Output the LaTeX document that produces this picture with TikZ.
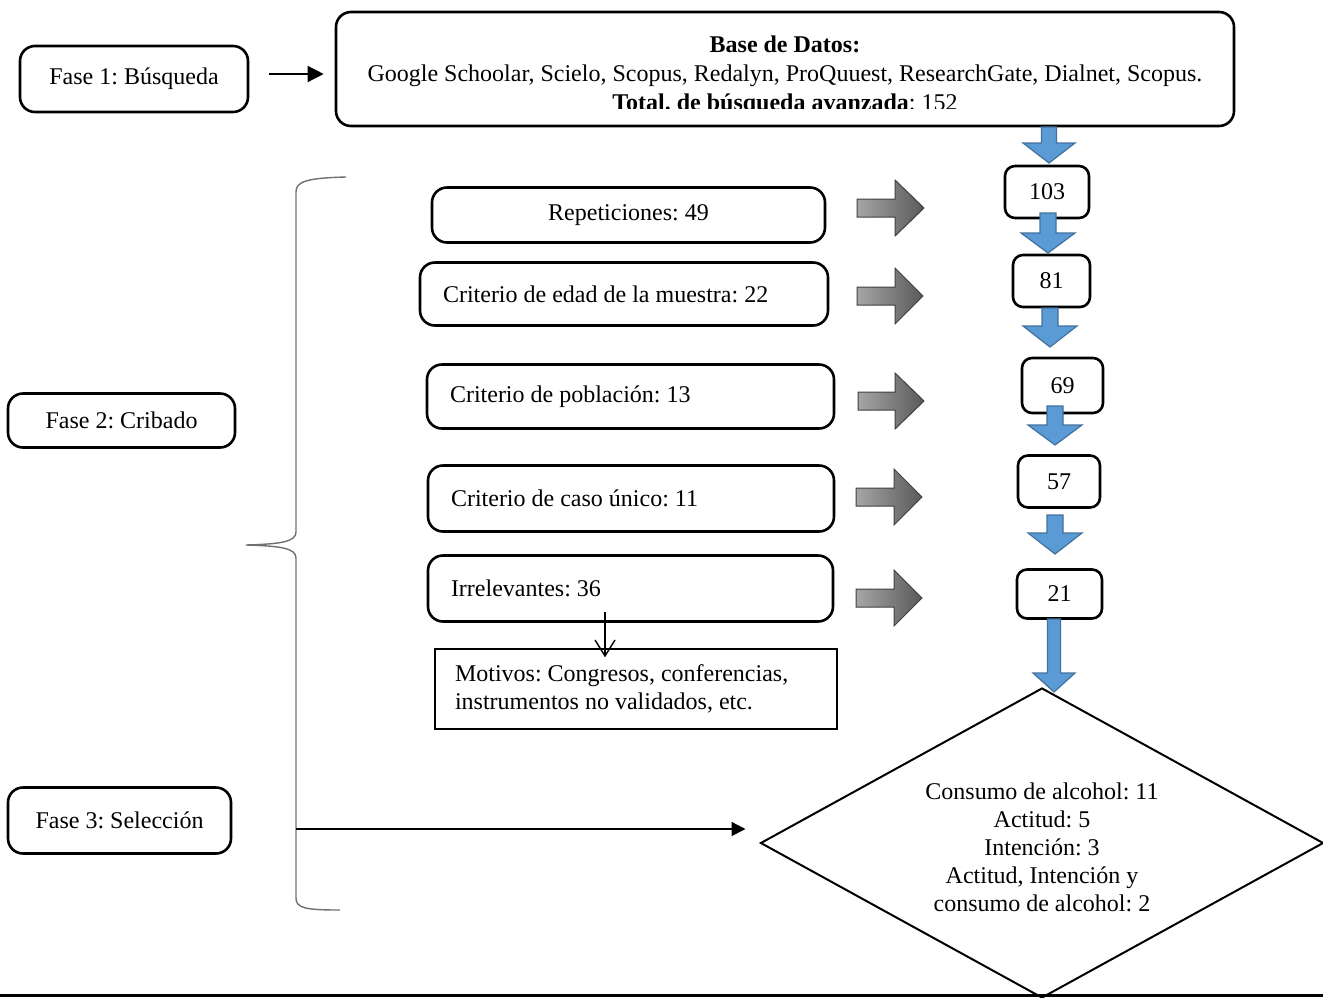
\documentclass[tikz,border=0pt]{standalone}
\usepackage{fontspec}
\setmainfont{Liberation Serif}
\usepackage{xcolor}
\usepackage{tikz}
\usetikzlibrary{positioning}
\usetikzlibrary{shapes.geometric}
\usetikzlibrary{arrows.meta}

\definecolor{flowblue}{HTML}{5B9BD5}
\definecolor{flowblueline}{HTML}{41719C}
\definecolor{bracegray}{HTML}{707070}

\tikzset{
  phase/.style={draw,rounded corners=7.5pt,line width=1.3pt,inner sep=2pt,align=center},
  crit/.style={draw,rounded corners=7.5pt,line width=1.3pt,inner xsep=11.5pt,inner ysep=0pt,align=flush left},
  num/.style={draw,rounded corners=5pt,line width=1.3pt,inner sep=0pt,align=center},
  note/.style={draw,line width=0.7pt,inner xsep=10pt,inner ysep=0pt,align=flush left},
  decision/.style={draw,diamond,aspect=1.816,line width=1pt,inner sep=0pt},
  bluearrow/.style={fill=flowblue,draw=flowblueline,line width=0.6pt},
  grayarrow/.style={left color=black!35,right color=black!65,draw=black!75,line width=0.5pt},
}

\begin{document}
\frenchspacing
\begin{tikzpicture}[x=0.5pt,y=-0.5pt,font=\fontsize{12}{14}\selectfont]
\useasboundingbox (0,0) rectangle (1323,997);

% fases
\node[phase,minimum width=114pt,minimum height=33pt]   (fase1) at (134,79)    {Fase 1: Búsqueda};
\node[phase,minimum width=113.5pt,minimum height=27pt] (fase2) at (121.5,420.5) {Fase 2: Cribado};
\node[phase,minimum width=111.5pt,minimum height=33pt] (fase3) at (119.5,820.5) {Fase 3: Selección};

% base de datos
\node[phase,minimum width=449pt,minimum height=57pt] (base) at (785,69) {};
\begin{scope}
\clip (336,12) rectangle (1234,108);
\node[align=center,font=\fontsize{12}{14.5}\selectfont] (basetxt) at (785,75.5)
  {\textbf{Base de Datos:}\\
   Google Schoolar, Scielo, Scopus, Redalyn, ProQuuest, ResearchGate, Dialnet, Scopus.\\
   \textbf{Total. de búsqueda avanzada}: 152};
\end{scope}

% criterios
\node[crit,align=flush center,text width=173.5pt,minimum height=27.5pt] (rep) at (628.5,215) {Repeticiones: 49};
\node[crit,text width=181pt,minimum height=31.5pt]  (edad)  at (624,294) {Criterio de edad de la muestra: 22};
\node[crit,text width=180.5pt,minimum height=32pt]  (pob)   at (630.5,396.5) {Criterio de población: 13};
\node[crit,text width=180pt,minimum height=33pt]    (unico) at (631,498.5)   {Criterio de caso único: 11};
\node[crit,text width=179.5pt,minimum height=33pt]  (irr)   at (630.5,588.5) {Irrelevantes: 36};
\node[note,text width=181pt,minimum height=40pt]    (mot)   at (636,689)
  {Motivos: Congresos, conferencias,\\ instrumentos no validados, etc.};

% cifras
\node[num,minimum width=42pt,minimum height=26pt]     (n103) at (1047,192)     {103};
\node[num,minimum width=38.5pt,minimum height=26pt]   (n81)  at (1051.5,281)   {81};
\node[num,minimum width=40.5pt,minimum height=27.5pt] (n69)  at (1062.5,385.5) {69};
\node[num,minimum width=41pt,minimum height=26pt]     (n57)  at (1059,481.5)     {57};
\node[num,minimum width=42.5pt,minimum height=24.5pt] (n21)  at (1059.5,594) {21};

\node[decision,minimum width=281.5pt,minimum height=155pt] (dec) at (1042,843) {};
\node[align=center] (dectxt) at (1042,847)
  {Consumo de alcohol: 11\\ Actitud: 5\\ Intención: 3\\ Actitud, Intención y\\ consumo de alcohol: 2};

% flechas grises
\foreach \xa/\xb/\xc/\yc in {857/895/924/208,857/895/923/296,858/895/924/401,856/894/922/497,856/894/922/598}
  \draw[grayarrow] (\xa,\yc-9) -- (\xb,\yc-9) -- (\xb,\yc-28) -- (\xc,\yc) -- (\xb,\yc+28)
    -- (\xb,\yc+9) -- (\xa,\yc+9) -- cycle;

% flechas azules
\foreach \x/\ya/\yb/\yc/\s/\h in {1049/127/143/163/7.5/26,1048/213/233/253/8/27,1050/308/326/347/8/27,
    1055/406/425/445/8/27,1055/515/533/554/8/27,1054/619/673/692/6.5/21}
  \draw[bluearrow] (\x-\s,\ya) -- (\x+\s,\ya) -- (\x+\s,\yb) -- (\x+\h,\yb) -- (\x,\yc)
    -- (\x-\h,\yb) -- (\x-\s,\yb) -- cycle;

% conectores
\draw[line width=0.7pt,-{Triangle[length=8pt,width=8pt]},shorten <=10pt,shorten >=5.5pt]
  ([yshift=2.5pt]fase1.east) -- ([yshift=2.5pt]fase1.east -| base.west);

\coordinate (irrout) at (605,612);
\draw[line width=0.7pt,-{Straight Barb[length=8pt,width=10pt]},shorten >=-4.5pt]
  (irrout) -- (irrout |- mot.north);

% llave
\draw[bracegray,line width=0.7pt] (346,177) .. controls (305,178) and (296,182) .. (296,192)
  -- (296,532) .. controls (296,542) and (280,544) .. (246,545)
  .. controls (280,546) and (296,548) .. (296,558)
  -- (296,898) .. controls (296,908) and (305,910) .. (340,910);

\coordinate (brace) at (296,829);
\draw[line width=0.7pt,-{Triangle[length=7pt,width=7pt]},shorten >=7pt] (brace) -- (brace -| dec.west);

\draw[line width=1.5pt] (0,995) -- (1323,995);

\end{tikzpicture}
\end{document}
